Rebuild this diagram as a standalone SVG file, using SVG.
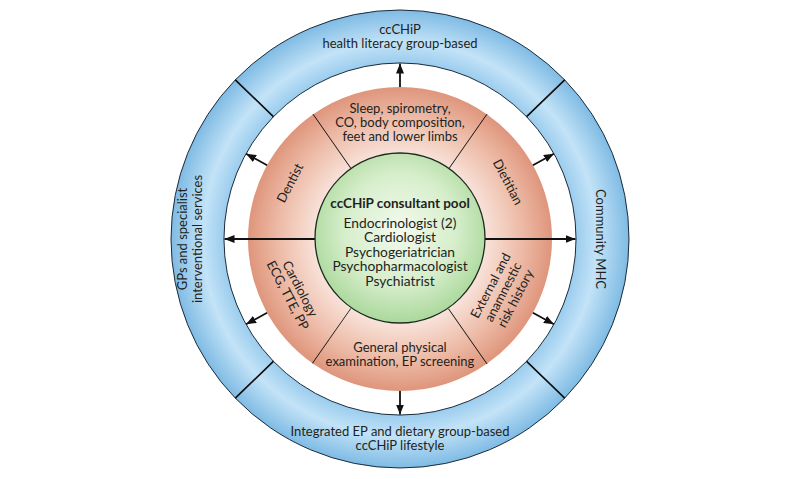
<svg xmlns="http://www.w3.org/2000/svg" width="800" height="479" viewBox="0 0 800 479">
<style>
.t{font-family:Lato,"Open Sans","Liberation Sans",sans-serif;font-size:13px;fill:#231f20;text-anchor:middle}
.g{font-size:13.8px}
.b{font-weight:bold;font-size:13.5px}
.blue{fill:url(#gBlue);stroke:#1c2b3a;stroke-width:1}
.red{fill:url(#gRed);stroke:none}
.div{stroke:#111;stroke-width:1.6;fill:none}
.arr{stroke:#111;stroke-width:1.8;fill:none;marker-end:url(#ah)}
</style>
<defs>
<radialGradient id="gBlue" gradientUnits="userSpaceOnUse" cx="400" cy="239" r="229">
<stop offset="0.77" stop-color="#9ccdee"/>
<stop offset="0.86" stop-color="#c3e3f7"/>
<stop offset="1" stop-color="#7fbbe4"/>
</radialGradient>
<radialGradient id="gRed" gradientUnits="userSpaceOnUse" cx="400" cy="239" r="152">
<stop offset="0.56" stop-color="#f8e2d9"/>
<stop offset="0.8" stop-color="#edbba7"/>
<stop offset="1" stop-color="#df957c"/>
</radialGradient>
<radialGradient id="gGreen" cx="0.5" cy="0.45" r="0.55">
<stop offset="0" stop-color="#f3faee"/>
<stop offset="0.6" stop-color="#d6eecb"/>
<stop offset="1" stop-color="#aad89b"/>
</radialGradient>
<marker id="ah" markerUnits="userSpaceOnUse" markerWidth="10" markerHeight="8" refX="10" refY="4" orient="auto">
<path d="M0 0 L10 4 L0 8 Z" fill="#111"/>
</marker>
</defs>
<rect width="800" height="479" fill="#ffffff"/>

<g id="outer-top">
<path class="blue" d="M 564.7 79.9 A 229 229 0 0 0 235.3 79.9 L 273.4 116.7 A 176 176 0 0 1 526.6 116.7 Z"/>
<text class="t" x="400" y="34">ccCHiP</text>
<text class="t" x="400" y="48">health literacy group-based</text>
</g>
<g id="outer-left">
<path class="blue" d="M 235.3 79.9 A 229 229 0 0 0 235.3 398.1 L 273.4 361.3 A 176 176 0 0 1 273.4 116.7 Z"/>
<g transform="translate(190,239) rotate(-90)">
<text class="t" x="0" y="-3">GPs and specialist</text>
<text class="t" x="0" y="11.5">interventional services</text>
</g>
</g>
<g id="outer-bottom">
<path class="blue" d="M 235.3 398.1 A 229 229 0 0 0 564.7 398.1 L 526.6 361.3 A 176 176 0 0 1 273.4 361.3 Z"/>
<text class="t" x="400" y="436">Integrated EP and dietary group-based</text>
<text class="t" x="400" y="450">ccCHiP lifestyle</text>
</g>
<g id="outer-right">
<path class="blue" d="M 564.7 398.1 A 229 229 0 0 0 564.7 79.9 L 526.6 116.7 A 176 176 0 0 1 526.6 361.3 Z"/>
<text class="t" transform="translate(600,239) rotate(90)" x="0" y="4.5">Community MHC</text>
</g>

<g id="red-top">
<path class="red" d="M 487.2 114.5 A 152 152 0 0 0 312.8 114.5 L 351.2 169.4 A 85 85 0 0 1 448.8 169.4 Z"/>
<line class="div" x1="487.2" y1="114.5" x2="448.8" y2="169.4"/>
<line class="div" x1="312.8" y1="114.5" x2="351.2" y2="169.4"/>
<text class="t" x="400" y="112.5">Sleep, spirometry,</text>
<text class="t" x="400" y="126.5">CO, body composition,</text>
<text class="t" x="400" y="140.5">feet and lower limbs</text>
</g>
<g id="red-dentist">
<path class="red" d="M 312.8 114.5 A 152 152 0 0 0 248 239 L 315 239 A 85 85 0 0 1 351.2 169.4 Z"/>
<text class="t" transform="translate(290,183) rotate(-62.5)" x="0" y="4.5">Dentist</text>
</g>
<g id="red-cardiology">
<path class="red" d="M 248 239 A 152 152 0 0 0 312.8 363.5 L 351.2 308.6 A 85 85 0 0 1 315 239 Z"/>
<line class="div" x1="312.8" y1="363.5" x2="351.2" y2="308.6"/>
<g transform="translate(294,292) rotate(62.5)">
<text class="t" x="0" y="-2.5">Cardiology</text>
<text class="t" x="0" y="11.5">ECG, TTE, PP</text>
</g>
</g>
<g id="red-bottom">
<path class="red" d="M 312.8 363.5 A 152 152 0 0 0 487.2 363.5 L 448.8 308.6 A 85 85 0 0 1 351.2 308.6 Z"/>
<line class="div" x1="487.2" y1="363.5" x2="448.8" y2="308.6"/>
<text class="t" x="400" y="351.5">General physical</text>
<text class="t" x="400" y="365.5">examination, EP screening</text>
</g>
<g id="red-external">
<path class="red" d="M 487.2 363.5 A 152 152 0 0 0 552 239 L 485 239 A 85 85 0 0 1 448.8 308.6 Z"/>
<g transform="translate(503,292) rotate(-62.5)">
<text class="t" x="0" y="-9.5">External and</text>
<text class="t" x="0" y="4.5">anamnestic</text>
<text class="t" x="0" y="18.5">risk history</text>
</g>
</g>
<g id="red-dietitian">
<path class="red" d="M 552 239 A 152 152 0 0 0 487.2 114.5 L 448.8 169.4 A 85 85 0 0 1 485 239 Z"/>
<text class="t" transform="translate(508,182) rotate(62.5)" x="0" y="4.5">Dietitian</text>
</g>

<g id="blue-dividers">
<line class="div" x1="564.7" y1="79.9" x2="526.6" y2="116.7"/>
<line class="div" x1="235.3" y1="79.9" x2="273.4" y2="116.7"/>
<line class="div" x1="235.3" y1="398.1" x2="273.4" y2="361.3"/>
<line class="div" x1="564.7" y1="398.1" x2="526.6" y2="361.3"/>
</g>

<g id="connectors">
<line class="arr" x1="400" y1="87" x2="400" y2="63.5"/>
<line class="arr" x1="400" y1="391" x2="400" y2="414.5"/>
<line class="arr" x1="315" y1="239" x2="224.5" y2="239"/>
<line class="arr" x1="485" y1="239" x2="575.5" y2="239"/>
<line class="arr" x1="532.9" y1="165.3" x2="553.9" y2="153.7"/>
<line class="arr" x1="267.1" y1="165.3" x2="246.1" y2="153.7"/>
<line class="arr" x1="267.1" y1="312.7" x2="246.1" y2="324.3"/>
<line class="arr" x1="532.9" y1="312.7" x2="553.9" y2="324.3"/>
</g>

<g id="consultant-pool">
<circle cx="400" cy="238" r="85" fill="url(#gGreen)" stroke="#1c2b1c" stroke-width="1.3"/>
<text class="t b" x="400" y="208">ccCHiP consultant pool</text>
<text class="t g" x="400" y="227.5">Endocrinologist (2)</text>
<text class="t g" x="400" y="242">Cardiologist</text>
<text class="t g" x="400" y="256.5">Psychogeriatrician</text>
<text class="t g" x="400" y="271">Psychopharmacologist</text>
<text class="t g" x="400" y="285.5">Psychiatrist</text>
</g>
</svg>
